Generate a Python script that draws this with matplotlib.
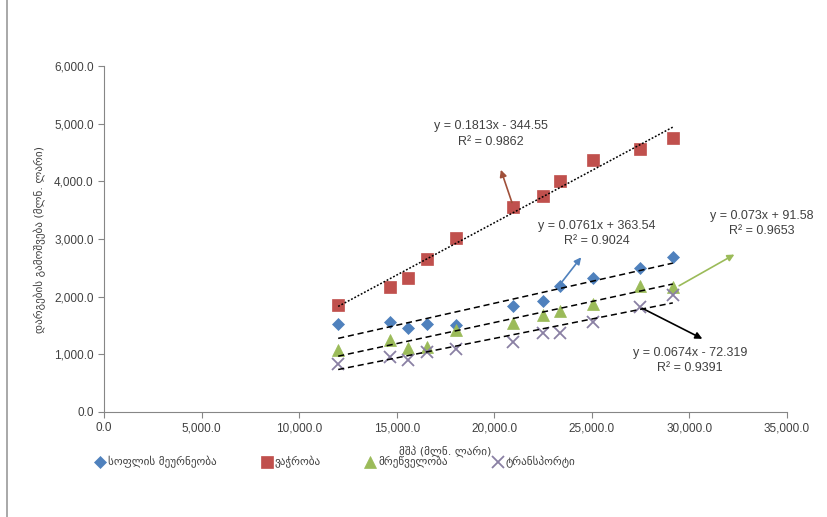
import numpy as np
import matplotlib
matplotlib.use('Agg')
import matplotlib.pyplot as plt
from matplotlib.ticker import FuncFormatter, MultipleLocator
from matplotlib.lines import Line2D

plt.rcParams['font.family'] = ['DejaVu Sans']

# GDP (x) and sector values (y)
gdp = [12000, 14650, 15600, 16550, 18050, 20950, 22500, 23350, 25050, 27450, 29150]
agriculture = [1530, 1560, 1455, 1525, 1510, 1840, 1925, 2185, 2320, 2500, 2690]
trade = [1850, 2170, 2330, 2650, 3010, 3550, 3740, 4000, 4370, 4560, 4750]
industry = [1075, 1250, 1110, 1120, 1420, 1545, 1680, 1750, 1870, 2180, 2170]
transport = [830, 950, 900, 1040, 1100, 1215, 1370, 1370, 1560, 1820, 2030]

names = ['სოფლის მეურნეობა', 'ვაჭრობა', 'მრეწველობა', 'ტრანსპორტი']

# trendline coefficients as printed on the chart
slopes = [0.0761, 0.1813, 0.073, 0.0674]
intercepts = [363.54, -344.55, 91.58, -72.319]
eq_labels = ['y = 0.0761x + 363.54\nR² = 0.9024',
             'y = 0.1813x - 344.55\nR² = 0.9862',
             'y = 0.073x + 91.58\nR² = 0.9653',
             'y = 0.0674x - 72.319\nR² = 0.9391']

series = [agriculture, trade, industry, transport]
colors = ['#4f81bd', '#c0504d', '#9bbb59', '#8a80a4']
markers = ['D', 's', '^', 'x']
msizes = [6, 8, 8, 8]

fig = plt.figure(figsize=(8.27, 5.17), dpi=100)
ax = fig.add_axes([0.1258, 0.2031, 0.8258, 0.6692])

xs = np.array([min(gdp), max(gdp)])
for i, ys in enumerate(series):
    ax.plot(gdp, ys, linestyle='none', marker=markers[i], color=colors[i],
            markersize=msizes[i], markeredgewidth=1.3 if markers[i] == 'x' else 0.5,
            label=names[i], zorder=3)
    ls = (0, (1.2, 1.2)) if i == 1 else (0, (4, 2.5))
    ax.plot(xs, slopes[i] * xs + intercepts[i], color='black', linewidth=1.1,
            linestyle=ls, zorder=4)

# equation labels with arrows
label_pos = [(25260, 3100), (19830, 4820), (33710, 3275), (30020, 900)]
arrows = [((23260, 2166), (24540, 2721)),
          ((20950, 3588), (20290, 4246)),
          ((29350, 2166), (32430, 2755)),
          ((27460, 1820), (30790, 1248))]
arrow_colors = ['#4f81bd', '#a0503a', '#9bbb59', 'black']
for i in range(4):
    ax.text(label_pos[i][0], label_pos[i][1], eq_labels[i], ha='center', va='center',
            fontsize=9, color='#404040', family=['Liberation Sans', 'DejaVu Sans'],
            linespacing=1.35, clip_on=False)
    (tx, ty), (hx, hy) = arrows[i]
    ax.annotate('', xy=(hx, hy), xytext=(tx, ty),
                arrowprops=dict(arrowstyle='-|>', color=arrow_colors[i], lw=1.2,
                                mutation_scale=10), annotation_clip=False)

ax.set_xlim(0, 35000)
ax.set_ylim(0, 6000)
ax.xaxis.set_major_locator(MultipleLocator(5000))
ax.yaxis.set_major_locator(MultipleLocator(1000))
fmt = FuncFormatter(lambda v, p: f'{v:,.1f}')
ax.xaxis.set_major_formatter(fmt)
ax.yaxis.set_major_formatter(fmt)
for s in ['top', 'right']:
    ax.spines[s].set_visible(False)
for s in ['left', 'bottom']:
    ax.spines[s].set_color('#868686')
ax.tick_params(direction='out', length=4, color='#868686', labelsize=8.5,
               labelcolor='#404040')
for lab in ax.get_xticklabels() + ax.get_yticklabels():
    lab.set_family(['Liberation Sans', 'DejaVu Sans'])

ax.set_xlabel('მშპ (მლნ. ლარი)', fontsize=8, color='#404040', labelpad=8)
ax.set_ylabel('დარგების გამოშვება (მლნ. ლარი)', fontsize=8, color='#404040', labelpad=6)

ax.legend(loc='center', bbox_to_anchor=(0.405, 0.106), bbox_transform=fig.transFigure,
          ncol=4, frameon=False, fontsize=8, columnspacing=4.0, handletextpad=0.2,
          handlelength=1.0, labelcolor='#404040')

# chart frame edge on the left
fig.add_artist(Line2D([7 / 827, 7 / 827], [0, 1], transform=fig.transFigure,
                      color='#9a9a9a', linewidth=1.2))

fig.savefig('out.png', dpi=100, facecolor='white')
